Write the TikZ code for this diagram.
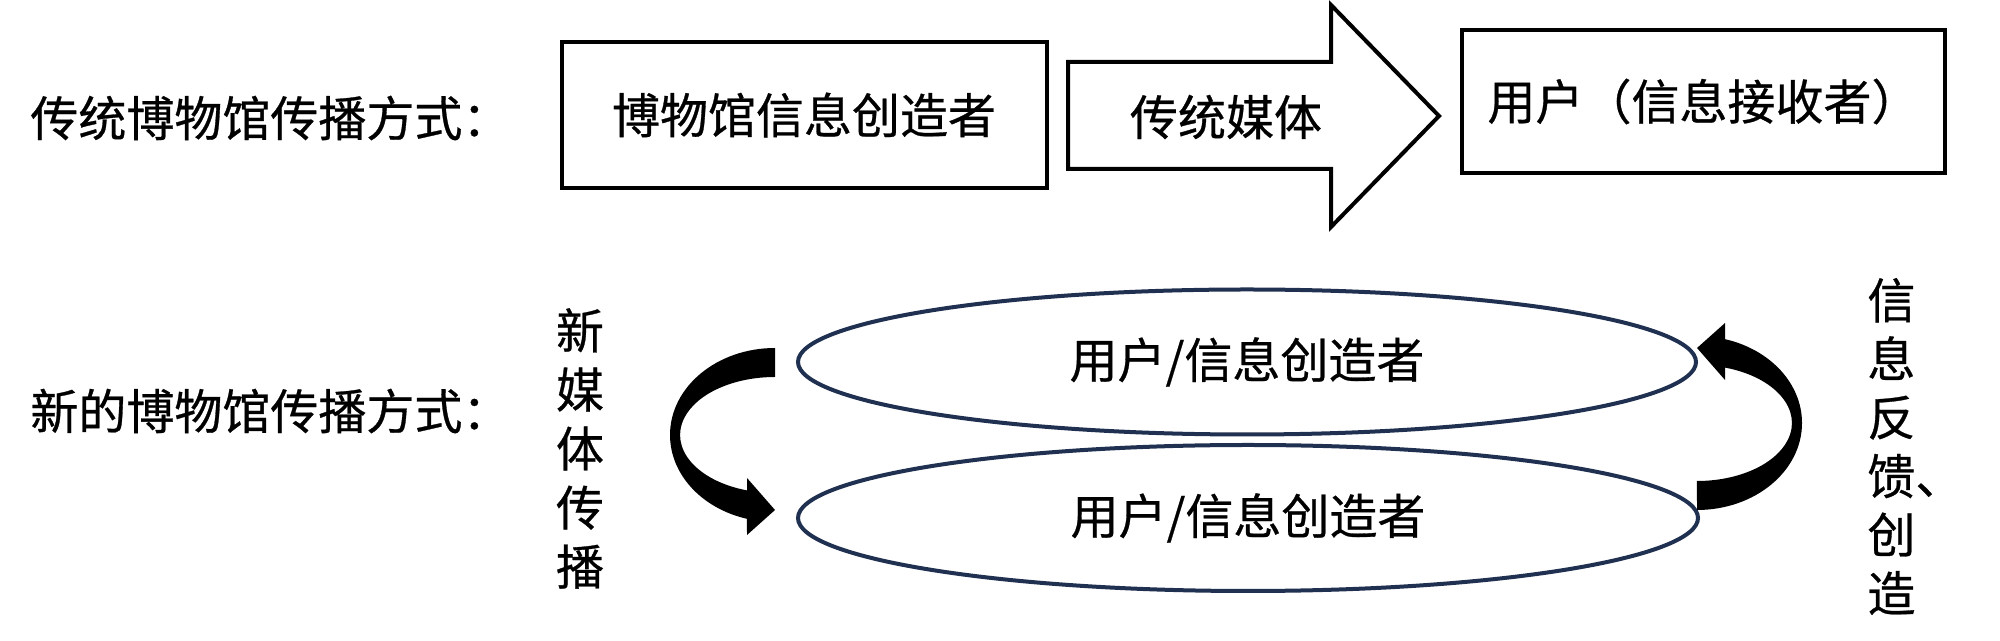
\documentclass[tikz,border=0pt]{standalone}
\usepackage{fontspec}
\setmainfont{Noto Sans CJK SC}[FakeBold=0.6]
\usetikzlibrary{shapes.geometric}
\definecolor{navy}{HTML}{1F3050}
\begin{document}
\begin{tikzpicture}[x=0.5pt,y=0.5pt,
  lbl/.style={font=\fontsize{24}{29.5}\selectfont, inner sep=0pt},
  boxnode/.style={draw=black, line width=2pt, rectangle, inner sep=0pt, fill=white},
  ell/.style={draw=navy, line width=2pt, ellipse, inner sep=0pt, fill=white},
  blockarrow/.style={draw=black, line width=2pt, fill=white, miter limit=20},
  curvearrow/.style={fill=black}]
\useasboundingbox (0,0) rectangle (2000,641);

% row labels
\node[lbl, anchor=west] (trad) at (30,523) {传统博物馆传播方式：};
\node[lbl, anchor=west] (newway) at (30,230) {新的博物馆传播方式：};

% top row
\node[boxnode, minimum width=242.5pt, minimum height=73pt, lbl] (creator) at (804,526) {博物馆信息创造者};
\draw[blockarrow] (1068,579) -- (1331,579) -- (1331,636) -- (1439,525) -- (1331,414) -- (1331,472) -- (1068,472) -- cycle;
\node[lbl] (media) at (1226,524) {传统媒体};
\node[boxnode, minimum width=241.5pt, minimum height=71.5pt, lbl] (user) at (1703.5,539.5) {用户（信息接收者）};

% bottom row
\node[ell, minimum width=449pt, minimum height=72.5pt, lbl] (ua) at (1247,279) {用户/信息创造者};
\node[ell, minimum width=450pt, minimum height=73pt, lbl] (ub) at (1248,123) {用户/信息创造者};

% vertical labels
\node[lbl, align=center] (vnew) at (580,192.5) {新\\媒\\体\\传\\播};
\node[lbl, align=left, anchor=west, font=\fontsize{24}{29.3}\selectfont] (vfb) at (1867,194.5) {信\\息\\反\\馈、\\创\\造};

% curved arrows
\coordinate (c1) at (775,206);
\coordinate (c2) at (1697,218);
\begin{scope}[shift={(c1)}]
  \fill[curvearrow] (0,87) arc[start angle=90, end angle=254.5, x radius=105, y radius=87]
    -- (-28,-100) -- (0,-75) -- (-28,-43) -- (-28,-55.4)
    arc[start angle=252.8, end angle=90, x radius=95, y radius=58] -- cycle;
\end{scope}
\begin{scope}[shift={(c2)}, rotate=180]
  \fill[curvearrow] (0,87) arc[start angle=90, end angle=254.5, x radius=105, y radius=87]
    -- (-28,-100) -- (0,-75) -- (-28,-43) -- (-28,-55.4)
    arc[start angle=252.8, end angle=90, x radius=95, y radius=58] -- cycle;
\end{scope}
\end{tikzpicture}
\end{document}
